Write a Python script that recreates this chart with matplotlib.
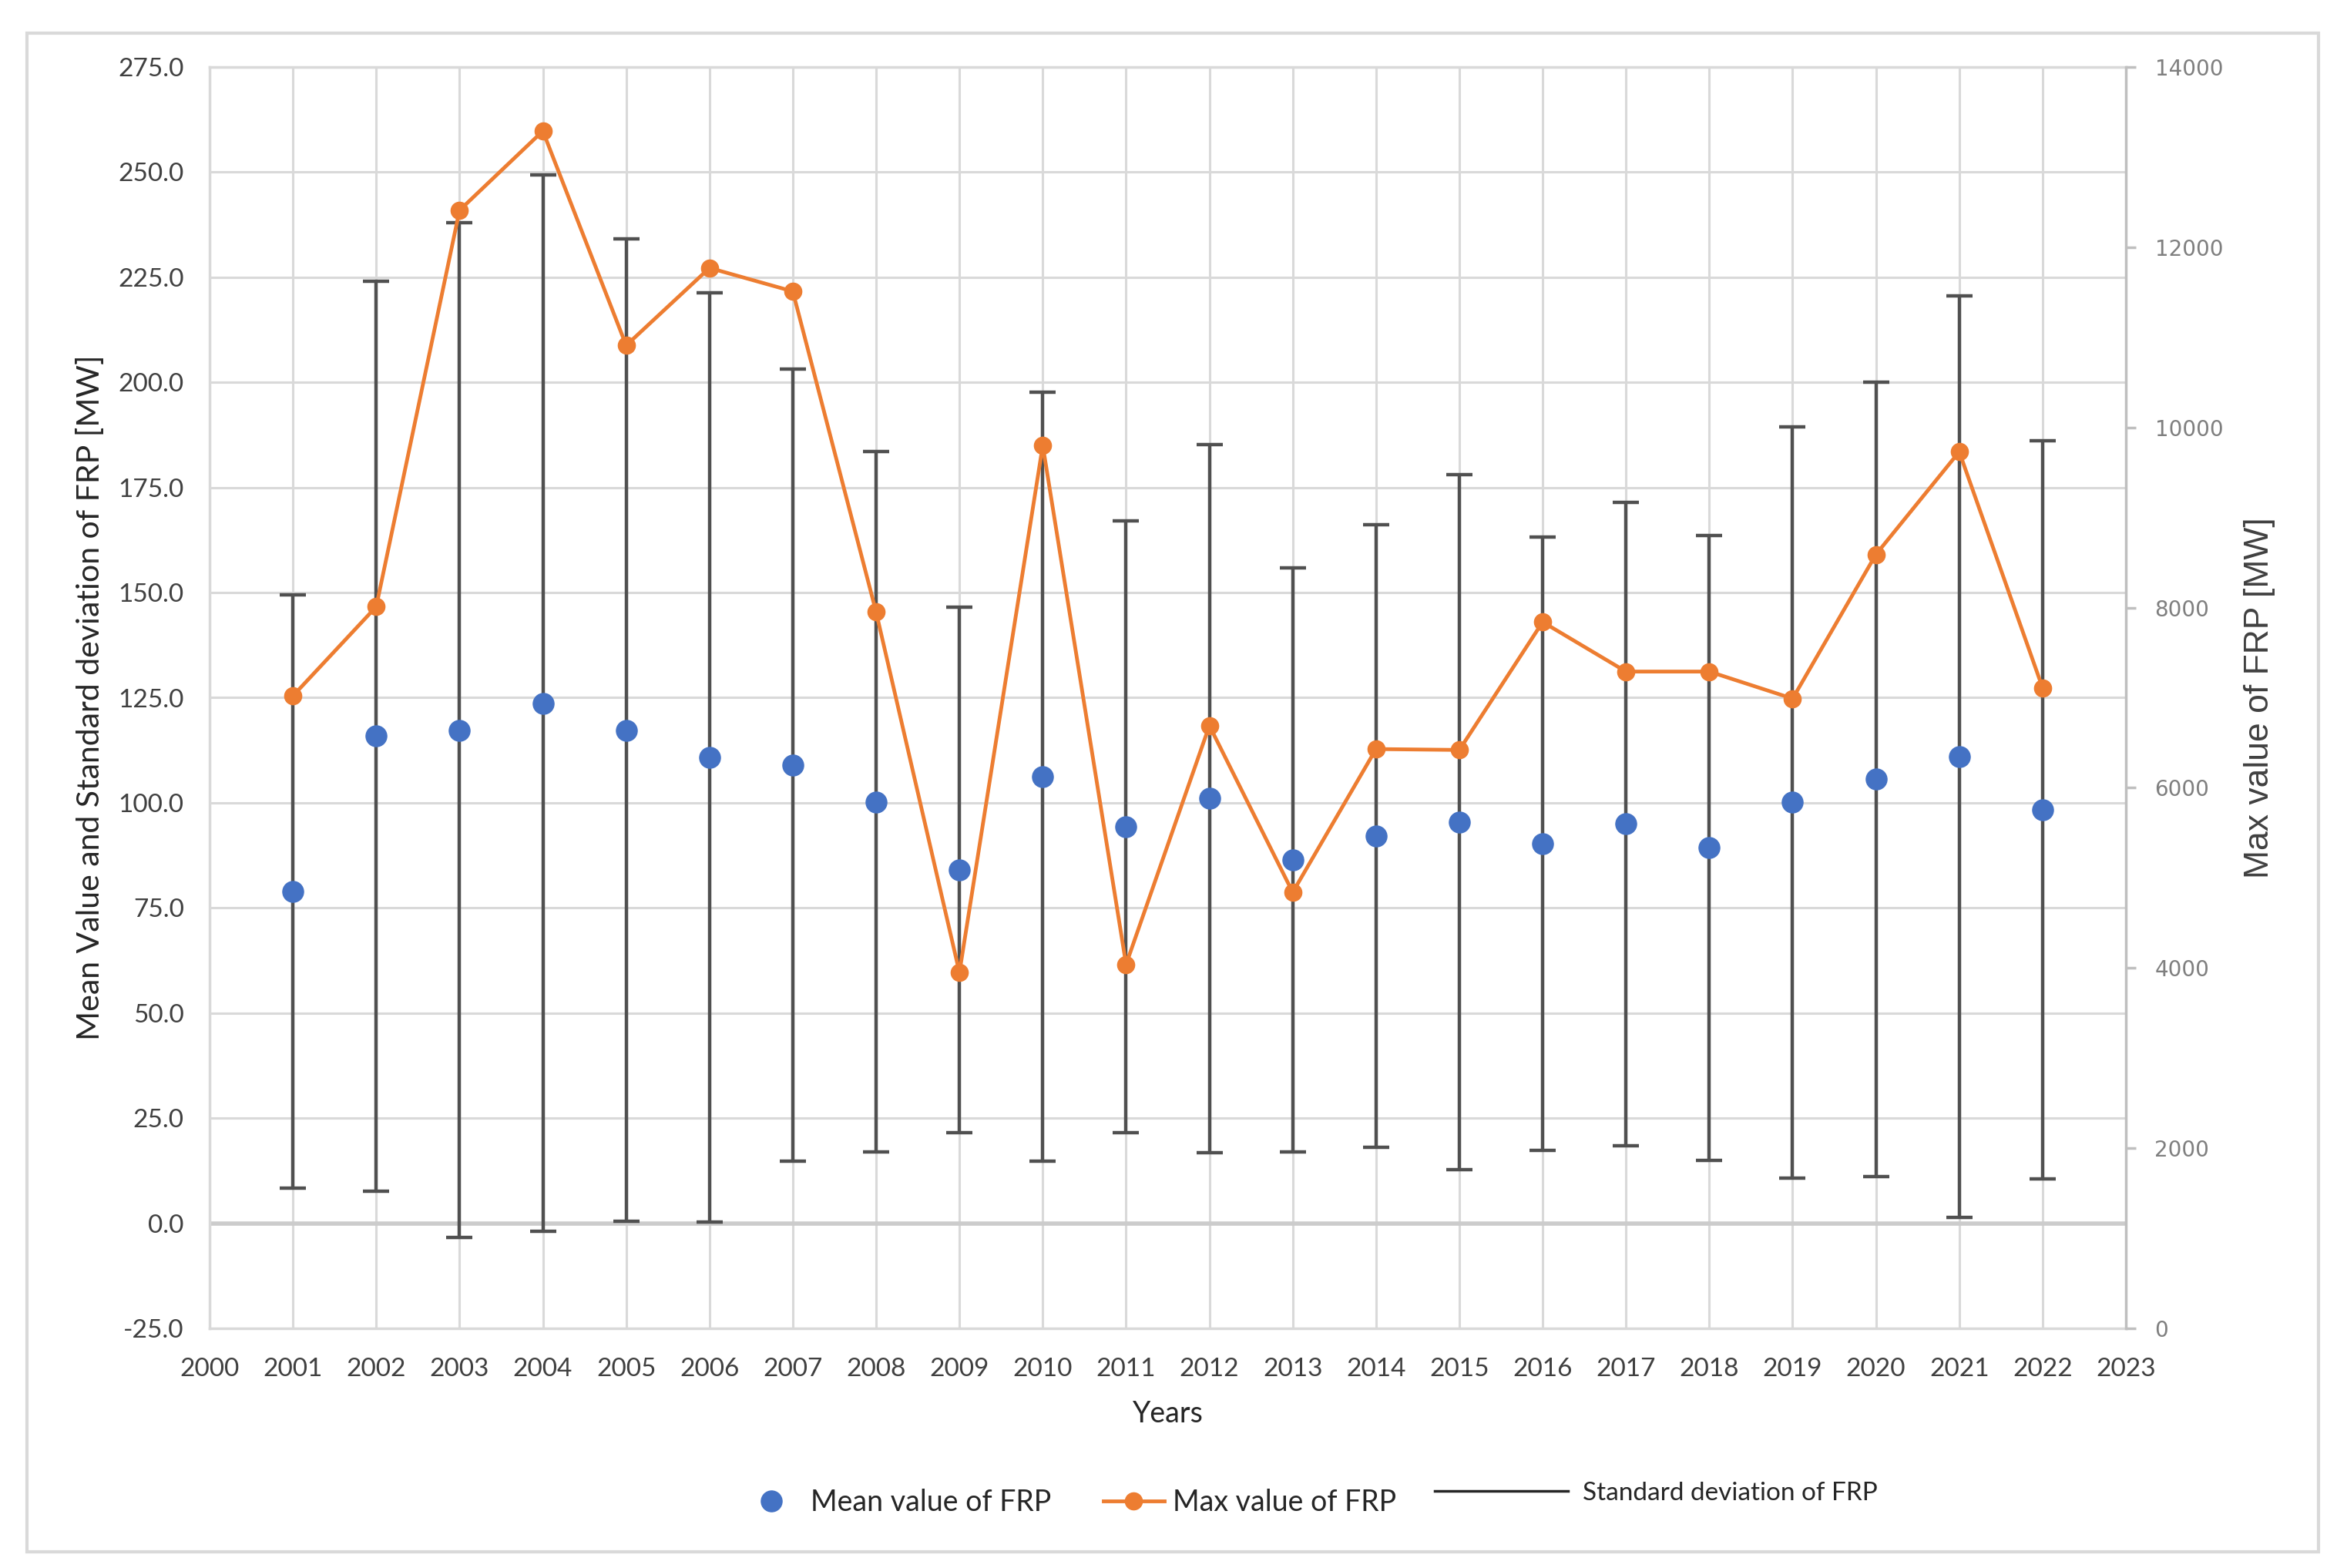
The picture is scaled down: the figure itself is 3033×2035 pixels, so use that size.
import numpy as np
import matplotlib
matplotlib.use("Agg")
import matplotlib.pyplot as plt
from matplotlib.lines import Line2D
from matplotlib.patches import Rectangle
from matplotlib.ticker import FormatStrFormatter, MultipleLocator

# values
years = [2001, 2002, 2003, 2004, 2005, 2006, 2007, 2008, 2009, 2010, 2011,
         2012, 2013, 2014, 2015, 2016, 2017, 2018, 2019, 2020, 2021, 2022]
mean_frp = [78.9, 115.9, 117.3, 123.7, 117.3, 110.8, 109.0, 100.2, 84.1, 106.2, 94.3,
            101.0, 86.4, 92.1, 95.4, 90.3, 95.0, 89.3, 100.1, 105.6, 110.9, 98.3]
std_frp = [70.5, 108.2, 120.6, 125.7, 116.9, 110.5, 94.2, 83.3, 62.5, 91.5, 72.8,
           84.2, 69.5, 74.0, 82.6, 72.9, 76.5, 74.3, 89.3, 94.5, 109.6, 87.8]
max_frp = [7020, 8010, 12410, 13290, 10910, 11770, 11510, 7950, 3950, 9800, 4040,
           6690, 4840, 6430, 6420, 7840, 7290, 7290, 6990, 8590, 9730, 7110]

BLUE = "#4472C4"
ORANGE = "#ED7D31"
GRID = "#d9d9d9"
FONT = ["Lato", "DejaVu Sans"]

plt.rcParams["font.family"] = FONT

fig = plt.figure(figsize=(30.33, 20.35), dpi=100)
ax = fig.add_axes([272 / 3033, 1 - 1724 / 2035, (2759 - 272) / 3033, (1724 - 87) / 2035])

# standard deviation bars + mean points
ax.errorbar(years, mean_frp, yerr=std_frp, fmt="none", ecolor="#505050",
            elinewidth=3.2, capsize=12, capthick=3.2, zorder=3)
ax.plot(years, mean_frp, "o", color=BLUE, ms=19.5, zorder=4)

ax.set_xlim(2000, 2023)
ax.set_ylim(-25, 275)
ax.xaxis.set_major_locator(MultipleLocator(1))
ax.yaxis.set_major_locator(MultipleLocator(25))
ax.yaxis.set_major_formatter(FormatStrFormatter("%.1f"))
ax.grid(True, color=GRID, lw=2.2, zorder=0)
ax.axhline(0, color="#cccccc", lw=4, zorder=1)
ax.set_axisbelow(True)
for s in ["left", "bottom", "top"]:
    ax.spines[s].set_color(GRID)
    ax.spines[s].set_linewidth(2.5)
ax.spines["right"].set_visible(False)
ax.tick_params(axis="both", length=0, labelsize=24, labelcolor="#404040")
ax.tick_params(axis="y", pad=24)
ax.tick_params(axis="x", pad=27)

ax.set_ylabel("Mean Value and Standard deviation of FRP [MW]", fontsize=29.5, color="#262626")
ax.yaxis.set_label_coords(-0.0623, 0.5)
ax.yaxis.label.set(va="center", ha="center", rotation_mode="default")
ax.set_xlabel("Years", fontsize=27, color="#262626")
ax.xaxis.set_label_coords(0.5, -0.0678)
ax.xaxis.label.set_va("center")

# max value on the secondary axis
ax2 = ax.twinx()
ax2.plot(years, max_frp, "-o", color=ORANGE, lw=3.5, ms=16, zorder=5)
ax2.set_ylim(0, 14000)
ax2.yaxis.set_major_locator(MultipleLocator(2000))
for s in ["left", "bottom", "top"]:
    ax2.spines[s].set_visible(False)
ax2.spines["right"].set_color("#bfbfbf")
ax2.spines["right"].set_linewidth(2.5)
ax2.tick_params(axis="y", direction="out", length=9, width=2.5, color="#bfbfbf",
                labelsize=20, labelcolor="#7f7f7f", pad=18)
for t in ax2.get_yticklabels():
    t.set_family("DejaVu Sans")
ax2.set_ylabel("Max value of FRP [MW]", fontsize=32, color="#404040",
               family="Liberation Sans", rotation=90)
ax2.yaxis.set_label_coords(1.0696, 0.5)
ax2.yaxis.label.set(va="center", ha="center", rotation_mode="default")

# legends
h_mean = Line2D([], [], ls="none", marker="o", color=BLUE, ms=19.5)
h_max = Line2D([], [], color=ORANGE, lw=3.5, marker="o", ms=16)
fig.legend([h_mean, h_max], ["Mean value of FRP", "Max value of FRP"],
           loc="center left", bbox_to_anchor=(962 / 3033, 1 - 1950 / 2035),
           ncol=2, frameon=False, fontsize=27, handlelength=2.1, handletextpad=0.3,
           columnspacing=1.8, borderpad=0, borderaxespad=0, labelcolor="#262626")
h_std = Line2D([], [], color="#262626", lw=2.5)
fig.legend([h_std], ["Standard deviation of FRP"],
           loc="center left", bbox_to_anchor=(1862 / 3033, 1 - 1938 / 2035),
           frameon=False, fontsize=24, handlelength=5.2, handletextpad=0.55,
           borderpad=0, borderaxespad=0, labelcolor="#262626")

# chart border
fig.patches.append(Rectangle((35 / 3033, 1 - 2014 / 2035), (3009 - 35) / 3033, (2014 - 43) / 2035,
                             transform=fig.transFigure, fill=False, ec=GRID, lw=3))

fig.savefig("out.png", dpi=100, facecolor="white")
